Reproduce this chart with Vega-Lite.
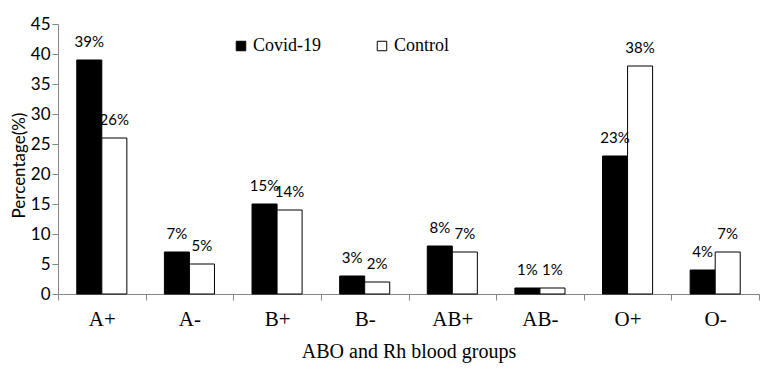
{
  "$schema": "https://vega.github.io/schema/vega-lite/v6.json",
  "width": 701,
  "height": 270,
  "autosize": {"type": "none"},
  "padding": {"left": 58, "top": 24, "right": 21, "bottom": 76},
  "background": "white",
  "config": {"view": {"stroke": null}},
  "data": {
    "values": [
      {"group": "A+", "series": "Covid-19", "value": 39, "label": "39%"},
      {"group": "A+", "series": "Control", "value": 26, "label": "26%"},
      {"group": "A-", "series": "Covid-19", "value": 7, "label": "7%"},
      {"group": "A-", "series": "Control", "value": 5, "label": "5%"},
      {"group": "B+", "series": "Covid-19", "value": 15, "label": "15%"},
      {"group": "B+", "series": "Control", "value": 14, "label": "14%"},
      {"group": "B-", "series": "Covid-19", "value": 3, "label": "3%"},
      {"group": "B-", "series": "Control", "value": 2, "label": "2%"},
      {"group": "AB+", "series": "Covid-19", "value": 8, "label": "8%"},
      {"group": "AB+", "series": "Control", "value": 7, "label": "7%"},
      {"group": "AB-", "series": "Covid-19", "value": 1, "label": "1%"},
      {"group": "AB-", "series": "Control", "value": 1, "label": "1%"},
      {"group": "O+", "series": "Covid-19", "value": 23, "label": "23%"},
      {"group": "O+", "series": "Control", "value": 38, "label": "38%"},
      {"group": "O-", "series": "Covid-19", "value": 4, "label": "4%"},
      {"group": "O-", "series": "Control", "value": 7, "label": "7%"}
    ]
  },
  "encoding": {
    "x": {
      "field": "group",
      "type": "nominal",
      "sort": ["A+", "A-", "B+", "B-", "AB+", "AB-", "O+", "O-"],
      "scale": {"paddingInner": 0, "paddingOuter": 0},
      "axis": {
        "title": "ABO and Rh blood groups",
        "tickBand": "extent",
        "labelAngle": 0,
        "labelFont": "Liberation Serif",
        "labelFontSize": 21,
        "labelColor": "black",
        "labelPadding": 8,
        "tickSize": 6,
        "tickColor": "#868686",
        "domainColor": "#868686",
        "titleFont": "Liberation Serif",
        "titleFontSize": 20,
        "titleFontWeight": "normal",
        "titleColor": "black",
        "titleBaseline": "alphabetic",
        "titleY": 63
      }
    },
    "xOffset": {
      "field": "series",
      "type": "nominal",
      "sort": ["Covid-19", "Control"],
      "scale": {"paddingInner": 0, "paddingOuter": 0.75}
    },
    "y": {
      "field": "value",
      "type": "quantitative",
      "scale": {"domain": [0, 45], "nice": false},
      "axis": {
        "title": "Percentage(%)",
        "values": [0, 5, 10, 15, 20, 25, 30, 35, 40, 45],
        "grid": false,
        "labelFont": "Lato",
        "labelFontSize": 17,
        "labelColor": "black",
        "labelPadding": 2,
        "tickSize": 6,
        "tickColor": "#868686",
        "domainColor": "#868686",
        "titleFont": "Lato",
        "titleFontSize": 17,
        "titleFontWeight": "normal",
        "titleColor": "black",
        "titleX": -39,
        "titleY": 141,
        "titleAlign": "center",
        "titleBaseline": "middle",
        "titleAngle": 270
      }
    }
  },
  "layer": [
    {
      "mark": {"type": "bar", "stroke": "black", "strokeWidth": 1},
      "encoding": {
        "color": {
          "field": "series",
          "type": "nominal",
          "sort": ["Covid-19", "Control"],
          "scale": {"domain": ["Covid-19", "Control"], "range": ["black", "white"]},
          "legend": {
            "title": null,
            "orient": "none",
            "legendX": 174,
            "legendY": 13,
            "direction": "horizontal",
            "symbolType": "square",
            "symbolSize": 90,
            "symbolStrokeColor": "black",
            "symbolStrokeWidth": 1,
            "symbolOffset": 0,
            "labelOffset": 3,
            "labelFont": "Liberation Serif",
            "labelFontSize": 18,
            "labelColor": "black",
            "columnPadding": 51
          }
        }
      }
    },
    {
      "mark": {
        "type": "text",
        "font": "Lato",
        "fontSize": 15,
        "color": "black",
        "baseline": "alphabetic",
        "dy": -13
      },
      "encoding": {"text": {"field": "label"}}
    }
  ]
}
